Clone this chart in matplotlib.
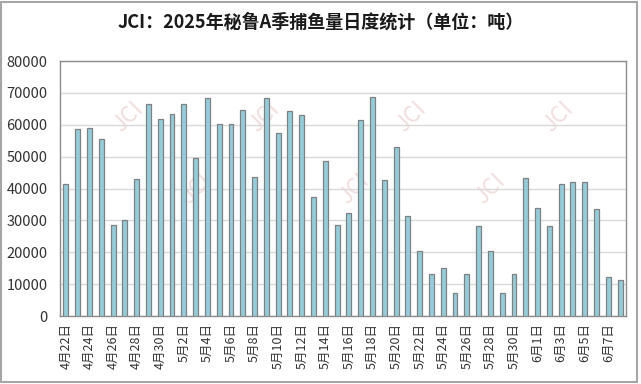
import matplotlib
matplotlib.use("Agg")
import matplotlib.pyplot as plt
import matplotlib.patches as mp
import numpy as np

plt.rcParams["font.family"] = ["Noto Sans CJK SC", "DejaVu Sans"]

# 日期 4月22日 — 6月8日（每隔一天标注）
months = [4] * 9 + [5] * 31 + [6] * 8
days = list(range(22, 31)) + list(range(1, 32)) + list(range(1, 9))
dates = [f"{m}月{d}日" for m, d in zip(months, days)]

# 捕鱼量（吨）
catch = [41500, 58600, 59100, 55600, 28600, 30100, 43000, 66500, 61700,
         63300, 66500, 49700, 68300, 60400, 60200, 64500, 43600, 68300,
         57400, 64300, 63100, 37300, 48500, 28600, 32300, 61500, 68700,
         42800, 52900, 31300, 20500, 13100, 15100, 7300, 13100, 28200,
         20300, 7100, 13100, 43300, 33900, 28200, 41300, 42100, 41900,
         33700, 12200, 11400]

yticks = list(range(0, 80001, 10000))

fig = plt.figure(figsize=(6.41, 3.84), dpi=100)
ax = fig.add_axes([0.0936, 0.177, 0.883, 0.664])

x = np.arange(len(catch))
ax.bar(x, catch, width=0.42, color="#92CDDC", edgecolor="#808080", lw=0.9, zorder=3)

ax.set_xlim(-0.5, len(catch) - 0.5)
ax.set_ylim(0, 80000)
ax.set_yticks(yticks)
ax.set_yticklabels([str(v) for v in yticks], fontsize=10.5, color="#333333")
ax.set_xticks(x[::2])
ax.set_xticklabels(dates[::2], rotation=90, fontsize=9, color="#333333")
ax.tick_params(axis="y", length=0, pad=9)
ax.tick_params(axis="x", length=0, pad=5)
ax.grid(axis="y", color="#d9d9d9", lw=1.0, zorder=0)
for s in ax.spines.values():
    s.set_color("#8c8c8c")
    s.set_linewidth(1.0)

# 水印
for wx, wy in [(0.12, 0.78), (0.36, 0.78), (0.62, 0.78), (0.88, 0.78),
               (0.24, 0.5), (0.52, 0.5), (0.76, 0.5)]:
    ax.text(wx, wy, "JCI", transform=ax.transAxes, rotation=45, fontsize=16,
            color="#f3dede", ha="center", va="center", zorder=1)

fig.text(0.5, 0.943, "JCI：2025年秘鲁A季捕鱼量日度统计（单位：吨）",
         ha="center", va="center", fontsize=13, fontweight="bold", color="#1a1a1a")

fig.patches.append(mp.Rectangle((0.002, 0.004), 0.991, 0.992, transform=fig.transFigure,
                                fill=False, edgecolor="#a6a6a6", lw=1.5))

fig.savefig("out.png", dpi=100)
